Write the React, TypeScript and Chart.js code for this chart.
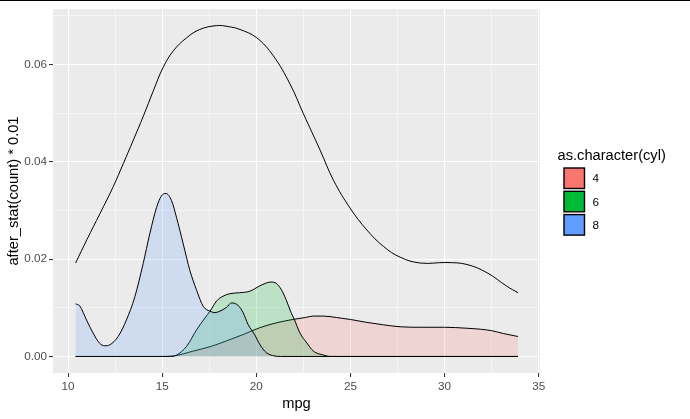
import React, { useEffect, useRef } from "react";
import { Chart, registerables } from "chart.js";

Chart.register(...registerables);

// ---- data ----
const totalX = [10.4, 11.0, 11.7, 12.4, 12.93, 13.46, 14.0, 14.52, 15.05, 15.59, 16.3, 17.0, 17.89, 18.5, 19.13, 20.02, 20.9, 21.79, 22.5, 23.39, 24.1, 24.98, 25.87, 26.76, 27.64, 28.71, 30.13, 31.19, 32.26, 33.32, 33.9];
const totalY = [0.0192, 0.024, 0.0294, 0.0349, 0.0396, 0.0444, 0.0494, 0.0545, 0.0594, 0.0628, 0.0655, 0.0672, 0.068, 0.0678, 0.0672, 0.0655, 0.0618, 0.056, 0.0499, 0.0424, 0.0362, 0.0305, 0.026, 0.0226, 0.0204, 0.0192, 0.0193, 0.0189, 0.0172, 0.0144, 0.0131];

const cyl8X = [10.4, 10.62, 10.98, 11.33, 11.68, 11.95, 12.22, 12.66, 13.1, 13.55, 13.99, 14.34, 14.7, 14.96, 15.2, 15.5, 15.76, 16.12, 16.47, 16.83, 17.18, 17.54, 17.8, 18.06, 18.42, 18.68, 19.03, 19.3, 19.56, 19.91, 20.18, 20.53, 20.97, 21.3, 25, 33.9];
const cyl8Y = [0.0108, 0.0104, 0.0075, 0.0048, 0.0027, 0.0022, 0.0024, 0.0041, 0.0075, 0.0123, 0.0191, 0.0252, 0.0306, 0.033, 0.0335, 0.032, 0.0286, 0.0231, 0.0177, 0.0136, 0.0103, 0.0093, 0.009, 0.0093, 0.0101, 0.011, 0.0105, 0.009, 0.0066, 0.0045, 0.0025, 0.0008, 0.0001, 0, 0, 0];

const cyl6X = [10.4, 15.4, 15.77, 16.3, 16.83, 17.27, 17.54, 17.89, 18.24, 18.59, 19.12, 19.65, 20.18, 20.53, 20.79, 21.06, 21.32, 21.58, 21.85, 22.02, 22.32, 22.68, 23.03, 23.56, 23.9, 33.9];
const cyl6Y = [0, 0, 0.0003, 0.0021, 0.0055, 0.0079, 0.0093, 0.0114, 0.0124, 0.0129, 0.0131, 0.0134, 0.0145, 0.0151, 0.0153, 0.015, 0.0138, 0.0117, 0.009, 0.0076, 0.0048, 0.0028, 0.0011, 0.0003, 0, 0];

const cyl4X = [10.4, 15.0, 15.6, 16.65, 17.54, 18.42, 19.3, 20.18, 21.06, 21.94, 22.6, 23.03, 23.56, 24.27, 25, 25.87, 26.76, 27.64, 28.7, 30, 31.19, 31.9, 32.5, 33.14, 33.9];
const cyl4Y = [0, 0, 0.0001, 0.0011, 0.002, 0.0032, 0.0045, 0.0059, 0.0069, 0.0076, 0.008, 0.0083, 0.0083, 0.008, 0.0076, 0.007, 0.0065, 0.0061, 0.006, 0.006, 0.0058, 0.0056, 0.0053, 0.0047, 0.0041];

const groupNames = ["4", "6", "8"];
const groupColors = ["#F8766D", "#00BA38", "#619CFF"];
const groupFills = ["rgba(248,118,109,0.2)", "rgba(0,186,56,0.2)", "rgba(97,156,255,0.2)"];

const xTicks = [10, 12.5, 15, 17.5, 20, 22.5, 25, 27.5, 30, 32.5, 35];
const yTicks = [0, 0.01, 0.02, 0.03, 0.04, 0.05, 0.06, 0.07];
const xTitle = "mpg";
const yTitle = "after_stat(count) * 0.01";
const legendTitle = "as.character(cyl)";

const zip = (xs: number[], ys: number[]) => xs.map((x, i) => ({ x, y: ys[i] }));

const isMajorX = (v: number) => Math.abs(v / 5 - Math.round(v / 5)) < 1e-6;
const isMajorY = (v: number) => Math.abs(v / 0.02 - Math.round(v / 0.02)) < 1e-6;

const FONT = "'Liberation Sans', Arial, sans-serif";

export default function App() {
  const ref = useRef<HTMLCanvasElement | null>(null);

  useEffect(() => {
    document.body.style.margin = "0";
    const canvas = ref.current;
    if (!canvas) return;

    const overlay = {
      id: "overlay",
      beforeDraw(chart: any) {
        const { ctx, chartArea } = chart;
        ctx.save();
        ctx.fillStyle = "#ffffff";
        ctx.fillRect(0, 0, chart.width, chart.height);
        ctx.fillStyle = "#EBEBEB";
        ctx.fillRect(chartArea.left, chartArea.top, chartArea.right - chartArea.left, chartArea.bottom - chartArea.top);
        ctx.restore();
      },
      afterDraw(chart: any) {
        const { ctx, chartArea } = chart;
        ctx.save();
        // top border line of the picture
        ctx.fillStyle = "#000000";
        ctx.fillRect(0, 0, chart.width, 1);
        // axis titles
        ctx.fillStyle = "#000000";
        ctx.font = `14.67px ${FONT}`;
        ctx.textAlign = "center";
        ctx.textBaseline = "alphabetic";
        ctx.fillText(xTitle, (chartArea.left + chartArea.right) / 2, 407.5);
        ctx.save();
        ctx.translate(18, (chartArea.top + chartArea.bottom) / 2);
        ctx.rotate(-Math.PI / 2);
        ctx.fillText(yTitle, 0, 0);
        ctx.restore();
        // legend
        ctx.textAlign = "left";
        ctx.fillText(legendTitle, 557.5, 159.5);
        ctx.font = `11.73px ${FONT}`;
        ctx.textBaseline = "middle";
        for (let i = 0; i < groupNames.length; i++) {
          const y = 168 + i * 23.3;
          ctx.fillStyle = groupColors[i];
          ctx.fillRect(564, y, 20.5, 20.5);
          ctx.strokeStyle = "#000000";
          ctx.lineWidth = 1.4;
          ctx.strokeRect(564, y, 20.5, 20.5);
          ctx.fillStyle = "#000000";
          ctx.fillText(groupNames[i], 592.5, y + 11);
        }
        ctx.restore();
      },
    };

    const lineCommon = {
      borderColor: "#000000",
      borderWidth: 1,
      pointRadius: 0,
      pointHoverRadius: 0,
      cubicInterpolationMode: "monotone" as const,
    };

    const chart = new Chart(canvas, {
      type: "line",
      data: {
        datasets: [
          {
            ...lineCommon,
            cubicInterpolationMode: "default",
            tension: 0.4,
            label: "total",
            data: zip(totalX, totalY),
            fill: false,
          },
          { ...lineCommon, label: groupNames[2], data: zip(cyl8X, cyl8Y), fill: "origin", backgroundColor: groupFills[2] },
          { ...lineCommon, label: groupNames[1], data: zip(cyl6X, cyl6Y), fill: "origin", backgroundColor: groupFills[1] },
          { ...lineCommon, label: groupNames[0], data: zip(cyl4X, cyl4Y), fill: "origin", backgroundColor: groupFills[0] },
        ],
      },
      options: {
        animation: false,
        responsive: false,
        events: [],
        layout: { padding: { left: 0, top: 7, right: 150, bottom: 0 } },
        plugins: { legend: { display: false }, tooltip: { enabled: false } },
        scales: {
          x: {
            type: "linear",
            min: 9.2,
            max: 35.07,
            afterBuildTicks: (scale: any) => {
              scale.ticks = xTicks.map((v) => ({ value: v }));
            },
            afterFit: (scale: any) => {
              scale.height = 46;
            },
            border: { display: false },
            grid: {
              color: "#FFFFFF",
              lineWidth: (c: any) => (isMajorX(c.tick.value) ? 1.07 : 0.53),
              tickColor: (c: any) => (isMajorX(c.tick.value) ? "#333333" : "rgba(0,0,0,0)"),
              tickWidth: 1.07,
              tickLength: 4,
              drawTicks: true,
            },
            ticks: {
              autoSkip: false,
              maxRotation: 0,
              padding: 3,
              color: "#4D4D4D",
              font: { family: FONT, size: 11.73 },
              callback: (v: any) => (isMajorX(Number(v)) ? String(v) : ""),
            },
          },
          y: {
            type: "linear",
            min: -0.0034,
            max: 0.0714,
            afterBuildTicks: (scale: any) => {
              scale.ticks = yTicks.map((v) => ({ value: v }));
            },
            afterFit: (scale: any) => {
              scale.width = 53;
            },
            border: { display: false },
            grid: {
              color: "#FFFFFF",
              lineWidth: (c: any) => (isMajorY(c.tick.value) ? 1.07 : 0.53),
              tickColor: (c: any) => (isMajorY(c.tick.value) ? "#333333" : "rgba(0,0,0,0)"),
              tickWidth: 1.07,
              tickLength: 4,
              drawTicks: true,
            },
            ticks: {
              autoSkip: false,
              padding: 2,
              color: "#4D4D4D",
              font: { family: FONT, size: 11.73 },
              callback: (v: any) => (isMajorY(Number(v)) ? Number(v).toFixed(2) : ""),
            },
          },
        },
      },
      plugins: [overlay],
    });

    return () => chart.destroy();
  }, []);

  return (
    <div style={{ width: 690, height: 419 }}>
      <canvas ref={ref} width={690} height={419} style={{ display: "block", width: 690, height: 419 }} />
    </div>
  );
}
